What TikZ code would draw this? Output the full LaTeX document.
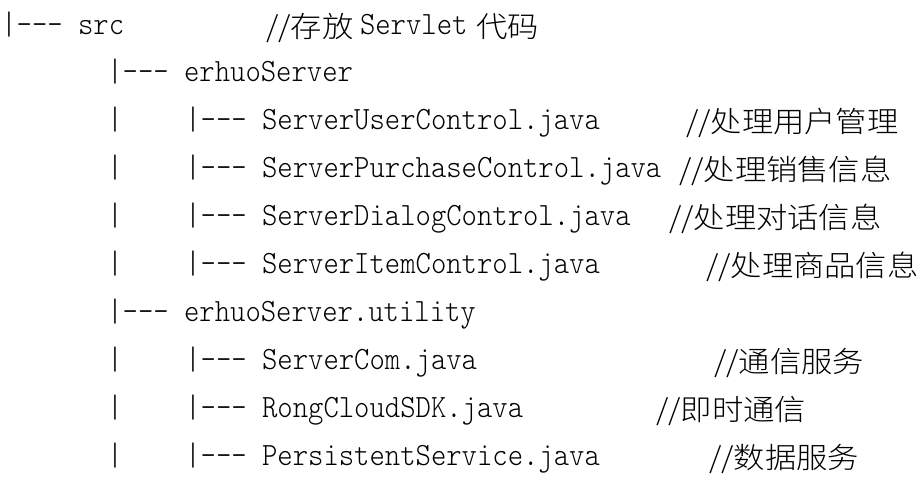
\documentclass[tikz,border=0pt]{standalone}
\usepackage{fontspec}
\newfontfamily\monofnt{lmmonolt10-regular.otf}[FakeStretch=0.9]
\newfontfamily\cjkfnt{Noto Sans CJK SC Light}[FakeStretch=1.08]
\tikzset{
  mono/.style={anchor=base west, inner sep=0pt, outer sep=0pt, font=\monofnt\fontsize{32.5}{36}\selectfont},
  cjk/.style={anchor=base west, inner sep=0pt, outer sep=0pt, font=\cjkfnt\fontsize{29}{32}\selectfont},
}
\begin{document}
\begin{tikzpicture}[x=1pt,y=-1pt]
\useasboundingbox[fill=white] (0,0) rectangle (920,477);
% row baselines
\def\ya{34}\def\yb{81.9}\def\yc{129.8}\def\yd{177.7}\def\ye{225.6}
\def\yf{273.5}\def\yg{321.4}\def\yh{369.3}\def\yi{417.2}\def\yj{465.1}
% row 1
\node[mono] (r1) at (1.3,\ya) {|--- src};
\node[cjk] (c1a) at (266,\ya+3) {//存放};
\node[mono] (c1b) at (360,\ya) {Servlet};
\node[cjk] (c1c) at (476,\ya+3) {代码};
% row 2
\node[mono] (r2) at (107.3,\yb) {|--- erhuoServer};
% row 3
\node[mono] (r3a) at (107.3,\yc) {|};
\node[mono] (r3b) at (185.3,\yc) {|--- ServerUserControl.java};
\node[cjk] (c3) at (686,\yc+3) {//处理用户管理};
% row 4
\node[mono] (r4a) at (107.3,\yd) {|};
\node[mono] (r4b) at (185.3,\yd) {|--- ServerPurchaseControl.java};
\node[cjk] (c4) at (679,\yd+3) {//处理销售信息};
% row 5
\node[mono] (r5a) at (107.3,\ye) {|};
\node[mono] (r5b) at (185.3,\ye) {|--- ServerDialogControl.java};
\node[cjk] (c5) at (669,\ye+3) {//处理对话信息};
% row 6
\node[mono] (r6a) at (107.3,\yf) {|};
\node[mono] (r6b) at (185.3,\yf) {|--- ServerItemControl.java};
\node[cjk] (c6) at (706,\yf+3) {//处理商品信息};
% row 7
\node[mono] (r7) at (107.3,\yg) {|--- erhuoServer.utility};
% row 8
\node[mono] (r8a) at (107.3,\yh) {|};
\node[mono] (r8b) at (185.3,\yh) {|--- ServerCom.java};
\node[cjk] (c8) at (714,\yh+3) {//通信服务};
% row 9
\node[mono] (r9a) at (107.3,\yi) {|};
\node[mono] (r9b) at (185.3,\yi) {|--- RongCloudSDK.java};
\node[cjk] (c9) at (656,\yi+3) {//即时通信};
% row 10
\node[mono] (r10a) at (107.3,\yj) {|};
\node[mono] (r10b) at (185.3,\yj) {|--- PersistentService.java};
\node[cjk] (c10) at (709,\yj+3) {//数据服务};
\end{tikzpicture}
\end{document}
